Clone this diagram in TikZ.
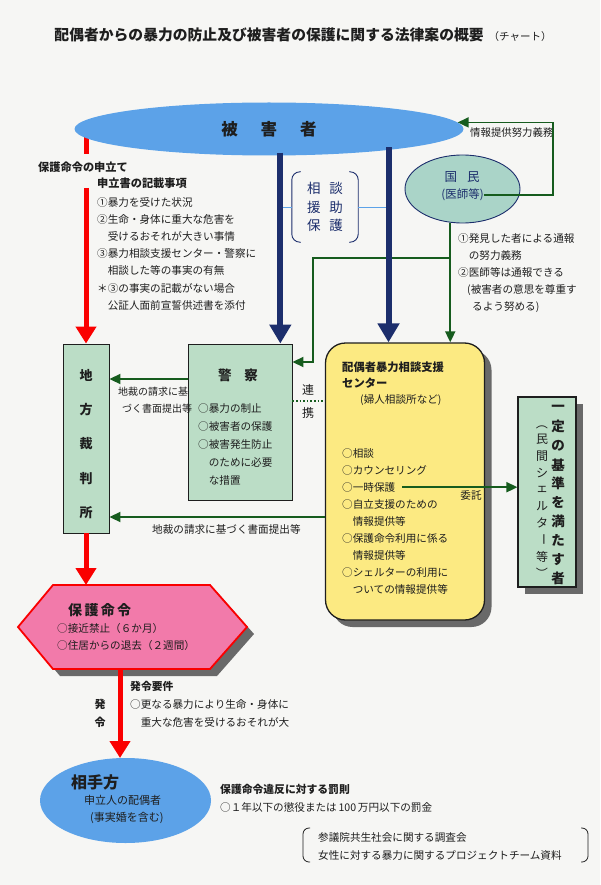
\documentclass[tikz,border=0pt]{standalone}
\usepackage{fontspec}
\setmainfont{Noto Sans CJK JP}
\usetikzlibrary{arrows.meta,shapes.geometric,shadows}
\definecolor{fondo}{RGB}{246,246,244}
\definecolor{tinta}{RGB}{30,30,30}
\definecolor{celeste}{RGB}{92,162,232}
\definecolor{menta}{RGB}{187,221,198}
\definecolor{verdeagua}{RGB}{170,212,200}
\definecolor{amarillo}{RGB}{252,234,130}
\definecolor{rosa}{RGB}{242,122,170}
\definecolor{rojo}{RGB}{250,0,0}
\definecolor{marino}{RGB}{28,46,108}
\definecolor{verde}{RGB}{22,92,30}
\definecolor{sombra}{RGB}{105,105,105}
\begin{document}
\begin{tikzpicture}[x=1pt,y=-1pt,
    texto/.style={font=\fontsize{10.6}{12}\selectfont, inner sep=0pt, anchor=west, text=tinta},
    negrita/.style={font={\fontsize{#1}{#1}\selectfont\bfseries}, inner sep=0pt, text=tinta},
    caja/.style={draw=tinta, fill=menta, line width=0.9pt, inner sep=0pt},
    sombreado/.style={drop shadow={shadow xshift=7pt, shadow yshift=-7pt, fill=sombra, opacity=1}},
    flecharoja/.style={draw=rojo, line width=5pt, -{Triangle[width=20pt,length=17pt]}},
    flechaazul/.style={draw=marino, line width=6pt, -{Triangle[width=21pt,length=19pt]}},
    lineaverde/.style={draw=verde, line width=1.8pt, -{Triangle[width=10pt,length=11pt]}}]
            \fill[fondo] (0,0) rectangle (600,885); % fondo
            \useasboundingbox (0,0) rectangle (600,885);
            \node[inner sep=0pt, text=tinta] (titulo) at (303,35) {{\fontsize{14.8}{15}\selectfont\bfseries 配偶者からの暴力の防止及び被害者の保護に関する法律案の概要}\hspace{5pt}{\fontsize{10.5}{11}\selectfont （チャート）}};
            % trozo rojo bajo la elipse
            \coordinate (corteA) at (86,130);
            \coordinate (corteB) at (86,154);
            \draw[rojo, line width=5pt] (corteA) -- (corteB);
            % elipses
            \node[ellipse, fill=celeste, minimum width=389, minimum height=53, inner sep=0pt,
              font=\fontsize{16.5}{17}\selectfont\bfseries, text=tinta] (victima) at (269,129) {被\hspace{23pt}害\hspace{23pt}者};
            \node[ellipse, draw=marino, line width=0.9pt, fill=verdeagua, minimum width=115, minimum height=68, inner sep=0pt] (ciudadano) at (462.5,189) {};
            \node[font=\fontsize{12.5}{13}\selectfont, text=marino, inner sep=0pt] (kokumin) at (462,177) {国\hspace{10pt}民};
            \node[font=\fontsize{11.5}{12}\selectfont, text=marino, inner sep=0pt] (ishi) at (462.5,195) {(医師等)};
            \node[texto, font=\fontsize{10.4}{11}\selectfont] (deber) at (470,133) {情報提供努力義務};
            % consulta
            \node[minimum width=66, minimum height=70, inner sep=0pt, align=center,
              font=\fontsize{13.5}{18.5}\selectfont, text=marino] (consulta) at (325,207) {相\hspace{9pt}談\\援\hspace{9pt}助\\保\hspace{9pt}護};
            \draw[marino, line width=0.9pt, rounded corners=8pt] ([xshift=9pt]consulta.north west) -- (consulta.north west) -- (consulta.south west) -- ([xshift=9pt]consulta.south west);
            \draw[marino, line width=0.9pt, rounded corners=8pt] ([xshift=-9pt]consulta.north east) -- (consulta.north east) -- (consulta.south east) -- ([xshift=-9pt]consulta.south east);
            \draw[celeste, line width=0.7pt] (consulta.west) -- (consulta.west -| victima.-67.4);
            \draw[celeste, line width=0.7pt] (consulta.east) -- (consulta.east -| victima.-10.8);
            % cajas
            \node[caja, minimum width=46, minimum height=189] (tribunal) at (86,438.5) {};
            \node[caja, minimum width=104, minimum height=156] (policia) at (240,422) {};
            \node[draw=tinta, line width=1.3pt, fill=amarillo, rounded corners=20pt, sombreado,
              minimum width=159, minimum height=277, inner sep=0pt] (centro) at (405,481.5) {};
            \node[caja, line width=1.1pt, sombreado, minimum width=58, minimum height=190] (refugio) at (547,492) {};
            \foreach \c [count=\i] in {地,方,裁,判,所}
            \node[negrita=13] (letra\i) at (86,{375+34.5*(\i-1)}) {\c};
            \node[negrita=13.5] (keisatsu) at (238,375) {警\hspace{13pt}察};
            \foreach \t [count=\i] in {○暴力の制止,○被害者の保護,○被害発生防止,　のために必要,　な措置}
            \node[texto] (medida\i) at (198,{409+17.75*(\i-1)}) {\t};
            \node[negrita=11.3, anchor=west] (centro1) at (342,367) {配偶者暴力相談支援};
            \node[negrita=11.3, anchor=west] (centro2) at (342,383) {センター};
            \node[texto] (centro3) at (360,400) {(婦人相談所など)};
            \foreach \t [count=\i] in {○相談,○カウンセリング,○一時保護,○自立支援のための,　情報提供等,○保護命令利用に係る,　情報提供等,○シェルターの利用に,　ついての情報提供等}
            \node[texto] (servicio\i) at (342,{453+17.1*(\i-1)}) {\t};
            \foreach \c [count=\i] in {一,定,の,基,準,を,満,た,す,者}
            \node[negrita=13.5] (norma\i) at (558,{408+18.9*(\i-1)}) {\c};
            \foreach \c [count=\i] in {\rotatebox{-90}{（},民,間,シ,ェ,ル,タ,\rotatebox{-90}{ー},等,\rotatebox{-90}{）}}
            \node[texto, anchor=center, font=\fontsize{12}{12}\selectfont] (privado\i) at (542,{423+16.7*(\i-1)}) {\c};
            % textos de la izquierda
            \node[negrita=11.2, anchor=west] (solicitud) at (38,167) {保護命令の申立て};
            \node[negrita=11.2, anchor=west] (escrito) at (97,183) {申立書の記載事項};
            \foreach \t [count=\i] in {①暴力を受けた状況,②生命・身体に重大な危害を,　受けるおそれが大きい事情,③暴力相談支援センター・警察に,　相談した等の事実の有無,＊③の事実の記載がない場合,　公証人面前宣誓供述書を添付}
            \node[texto] (escrito\i) at (97,{202+17.2*(\i-1)}) {\t};
            \foreach \t [count=\i] in {①発見した者による通報,　の努力義務,②医師等は通報できる,\hspace{9pt}(被害者の意思を尊重す,\hspace{14pt}るよう努める)}
            \node[texto] (aviso\i) at (458,{238+17.25*(\i-1)}) {\t};
            % lineas verdes
            \draw[lineaverde] (ishi.east) -- (553,0 |- ishi.east) |- (victima.2);
            \draw[lineaverde] (ciudadano.250) -- (ciudadano.250 |- centro.north);
            \draw[lineaverde] (ciudadano.250 |- 0,258) -| (313,362) -- (policia.east |- 0,362);
            \draw[lineaverde] (policia.west |- 0,379) -- (tribunal.east |- 0,379);
            \node[texto, font=\fontsize{10}{11}\selectfont] (pedido1) at (118,392) {地裁の請求に基};
            \node[texto, font=\fontsize{10}{11}\selectfont] (pedido2) at (122,409) {づく書面提出等};
            \draw[verde, line width=1.6pt, dotted] (policia.east |- 0,401) -- (centro.west |- 0,401);
            \node[texto, anchor=center, font=\fontsize{12}{12}\selectfont] (ren) at (308,390) {連};
            \node[texto, anchor=center, font=\fontsize{12}{12}\selectfont] (kei) at (308,413) {携};
            \draw[lineaverde] (centro.west |- 0,517) -- (tribunal.east |- 0,517);
            \node[texto] (pedido3) at (152,529) {地裁の請求に基づく書面提出等};
            \draw[lineaverde] ([xshift=7pt]servicio3.east) -- (refugio.west |- servicio3.east);
            \node[texto, anchor=center] (itaku) at (471,495) {委託};
            % flechas azules
            \draw[flechaazul, shorten <=-3pt] (victima.-67.4) -- (victima.-67.4 |- policia.north);
            \draw[flechaazul, shorten <=-3pt] (victima.-10.8) -- (victima.-10.8 |- centro.north);
            % orden de proteccion
            \draw[draw=rojo, line width=1.8pt, fill=rosa, sombreado] (18,627) -- (53,585) -- (210,585) -- (247,627) -- (210,669) -- (53,669) -- cycle;
            \coordinate (ordenarriba) at (86,585);
            \coordinate (ordenabajo) at (120,669);
            \node[negrita=14, anchor=west] (orden) at (68,610) {保\,護\,命\,令};
            \node[texto] (orden1) at (57,628) {○接近禁止（６か月）};
            \node[texto] (orden2) at (57,645) {○住居からの退去（２週間）};
            % flechas rojas
            \draw[flecharoja] (tribunal.north |- 0,188) -- (tribunal.north);
            \draw[flecharoja] (tribunal.south) -- (ordenarriba);
            \draw[flecharoja] (ordenabajo) -- (ordenabajo |- 0,758);
            \node[negrita=10.8, anchor=west] (requisito) at (130,686) {発令要件};
            \node[texto] (requisito1) at (130,704) {○更なる暴力により生命・身体に};
            \node[texto] (requisito2) at (130,722) {　重大な危害を受けるおそれが大};
            \node[negrita=11] (hatsu) at (100,704) {発};
            \node[negrita=11] (rei) at (100,722) {令};
            % contraparte
            \node[ellipse, fill=celeste, minimum width=171, minimum height=85, inner sep=0pt] (opuesto) at (125.5,800.5) {};
            \node[negrita=16, anchor=west] (aite) at (71,782) {相手方};
            \node[texto, font=\fontsize{11}{12}\selectfont] (aite1) at (84,800) {申立人の配偶者};
            \node[texto, font=\fontsize{11}{12}\selectfont] (aite2) at (90,818) {(事実婚を含む)};
            \node[negrita=10.8, anchor=west] (pena) at (220,789) {保護命令違反に対する罰則};
            \node[texto] (pena1) at (220,807) {○１年以下の懲役または\,100\,万円以下の罰金};
            % fuente
            \node[texto] (fuente1) at (318,837) {参議院共生社会に関する調査会};
            \node[texto] (fuente2) at (318,855) {女性に対する暴力に関するプロジェクトチーム資料};
            \draw[tinta, line width=0.8pt, rounded corners=6pt] (310,828) -- (303,828) -- (303,862) -- (310,862);
            \draw[tinta, line width=0.8pt, rounded corners=6pt] (581,828) -- (588,828) -- (588,862) -- (581,862);
\end{tikzpicture}
\end{document}
